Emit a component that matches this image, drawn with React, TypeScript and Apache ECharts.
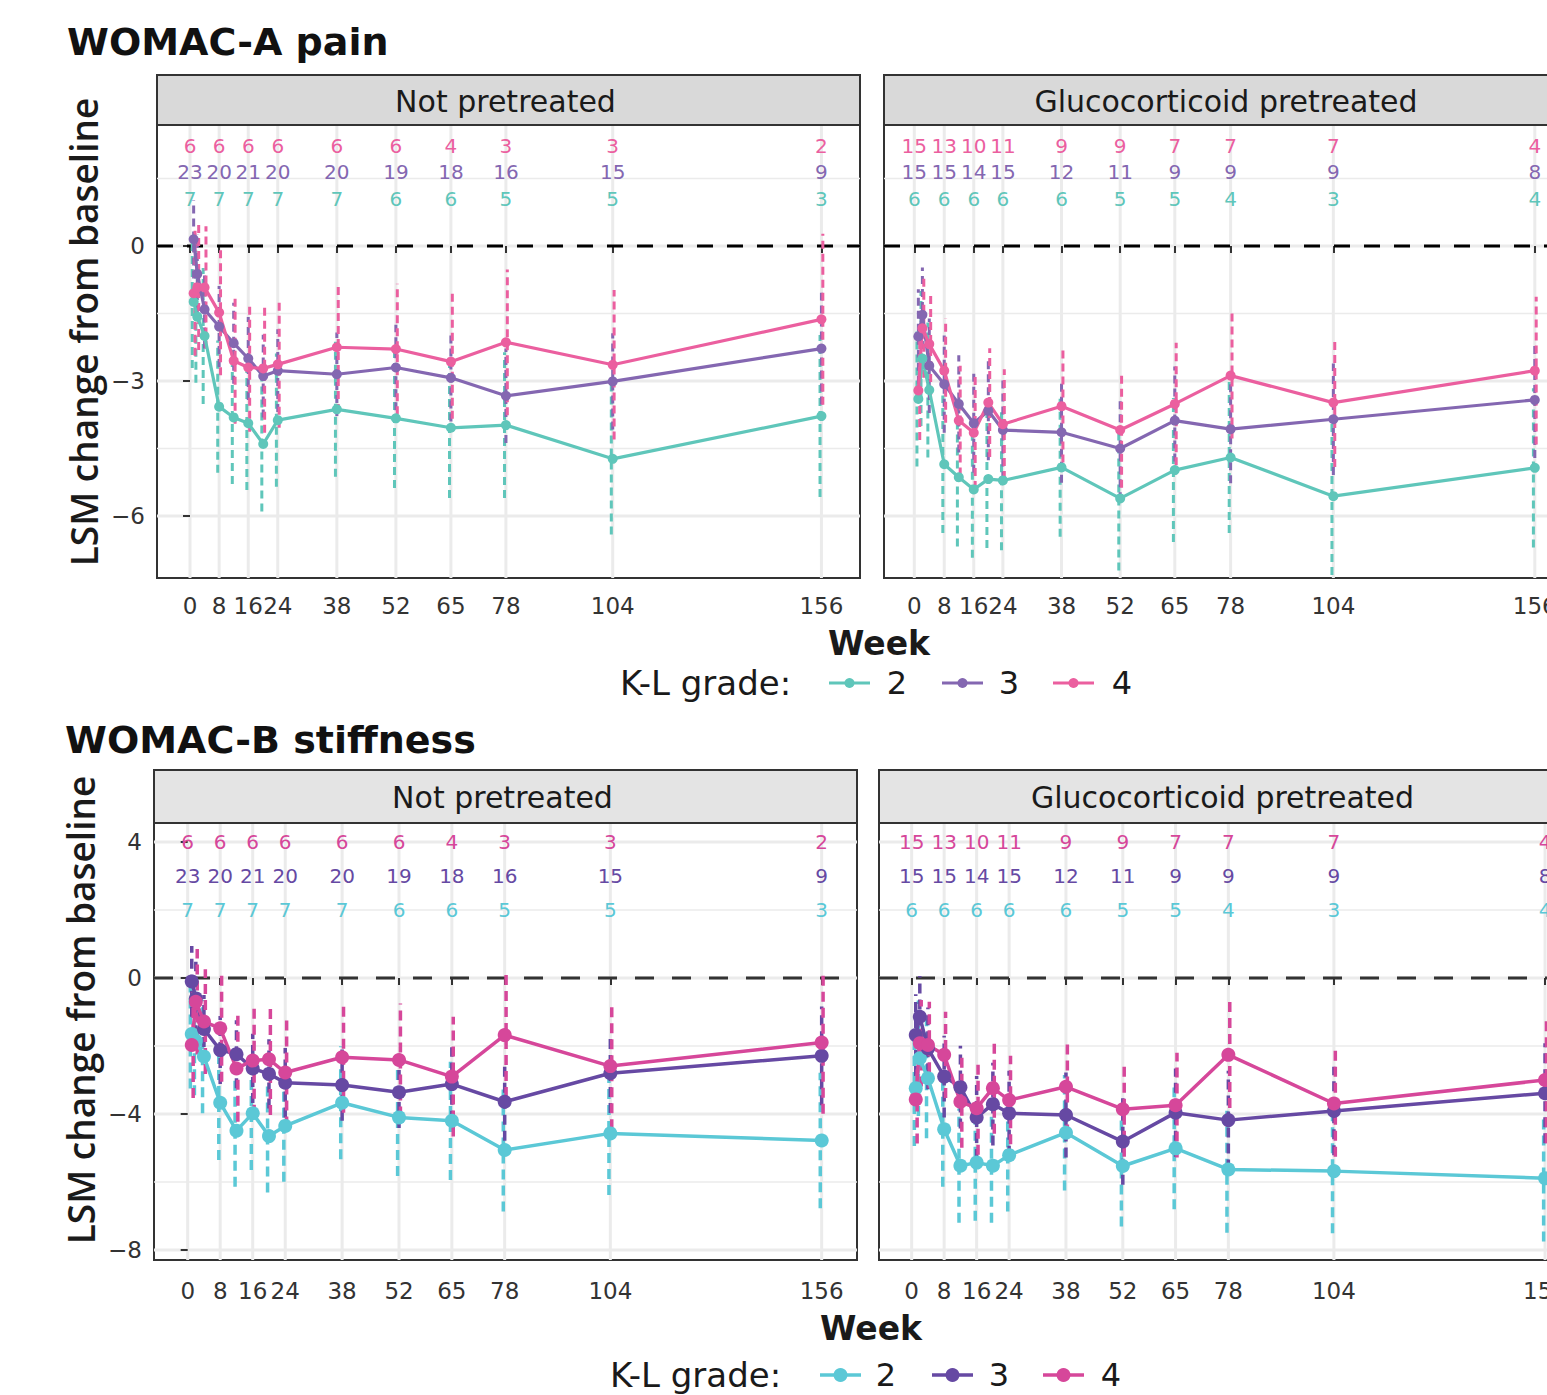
import React, { useEffect, useRef } from 'react';
import * as echarts from 'echarts';

// ---------------- DATA ----------------
const weeks = [1, 2, 4, 8, 12, 16, 20, 24, 38, 52, 65, 78, 104, 156];
const tickWeeks = [0, 8, 16, 24, 38, 52, 65, 78, 104, 156];

// plotted (actual) visit times in the WOMAC-A panels
const painNPTime = [0.9, 1.8, 3.6, 7.2, 10.8, 14.4, 18.1, 21.7, 36.3, 50.9, 64.5, 78.1, 104.5, 156.1];
const painNPTickTime = [0, 7.2, 14.4, 21.7, 36.3, 50.9, 64.5, 78.1, 104.5, 156.1];
const painGCTime = [1.0, 2.0, 3.7, 7.4, 11.0, 14.7, 18.3, 21.9, 36.4, 50.9, 64.4, 78.2, 103.6, 153.4];
const painGCTickTime = [0, 7.4, 14.7, 21.9, 36.4, 50.9, 64.4, 78.2, 103.6, 153.4];

// patient counts at labelled weeks
const nNP2 = [7, 7, 7, 7, 7, 6, 6, 5, 5, 3];
const nNP3 = [23, 20, 21, 20, 20, 19, 18, 16, 15, 9];
const nNP4 = [6, 6, 6, 6, 6, 6, 4, 3, 3, 2];
const nGC2 = [6, 6, 6, 6, 6, 5, 5, 4, 3, 4];
const nGC3 = [15, 15, 14, 15, 12, 11, 9, 9, 9, 8];
const nGC4 = [15, 13, 10, 11, 9, 9, 7, 7, 7, 4];

// WOMAC-A pain, not pretreated (LSM, CI half width)
const painNP2 = [-1.24, -1.57, -2.0, -3.57, -3.81, -3.94, -4.4, -3.87, -3.63, -3.83, -4.04, -3.98, -4.73, -3.78];
const painNP2ci = [1.47, 1.47, 1.51, 1.47, 1.48, 1.48, 1.5, 1.48, 1.5, 1.55, 1.56, 1.62, 1.68, 1.8];
const painNP3 = [0.15, -0.62, -1.41, -1.79, -2.16, -2.5, -2.89, -2.77, -2.85, -2.7, -2.93, -3.33, -3.01, -2.28];
const painNP3ci = [0.87, 0.87, 0.87, 0.9, 0.9, 0.92, 0.92, 0.92, 0.93, 0.95, 0.97, 1.05, 1.07, 1.24];
const painNP4 = [-1.05, -0.92, -0.92, -1.48, -2.55, -2.7, -2.72, -2.63, -2.25, -2.29, -2.57, -2.14, -2.64, -1.63];
const painNP4ci = [1.39, 1.39, 1.36, 1.39, 1.4, 1.43, 1.43, 1.41, 1.44, 1.45, 1.56, 1.62, 1.66, 1.9];

// WOMAC-A pain, glucocorticoid pretreated
const painGC2 = [-3.4, -2.5, -3.2, -4.85, -5.14, -5.41, -5.18, -5.21, -4.92, -5.61, -4.98, -4.7, -5.56, -4.93];
const painGC2ci = [1.5, 1.5, 1.5, 1.53, 1.54, 1.52, 1.53, 1.55, 1.54, 1.6, 1.6, 1.68, 1.75, 1.77];
const painGC3 = [-2.01, -1.53, -2.66, -3.07, -3.51, -3.94, -3.66, -4.09, -4.14, -4.5, -3.88, -4.07, -3.85, -3.42];
const painGC3ci = [1.05, 1.05, 1.05, 1.08, 1.08, 1.1, 1.1, 1.1, 1.12, 1.15, 1.2, 1.2, 1.24, 1.29];
const painGC4 = [-3.21, -1.83, -2.18, -2.77, -3.88, -4.15, -3.48, -3.96, -3.56, -4.09, -3.51, -2.88, -3.48, -2.77];
const painGC4ci = [1.1, 1.1, 1.13, 1.16, 1.22, 1.25, 1.21, 1.22, 1.25, 1.28, 1.36, 1.4, 1.43, 1.64];

// WOMAC-B stiffness, not pretreated
const stiffNP2 = [-1.65, -1.85, -2.31, -3.67, -4.49, -3.98, -4.65, -4.35, -3.67, -4.1, -4.2, -5.06, -4.57, -4.78];
const stiffNP2ci = [1.6, 1.6, 1.67, 1.68, 1.65, 1.67, 1.66, 1.64, 1.66, 1.72, 1.74, 1.81, 1.81, 1.99];
const stiffNP3 = [-0.1, -0.6, -1.5, -2.12, -2.24, -2.66, -2.82, -3.08, -3.15, -3.36, -3.12, -3.64, -2.8, -2.29];
const stiffNP3ci = [1.04, 1.08, 1.0, 1.0, 1.0, 1.02, 1.02, 1.02, 1.05, 1.05, 1.08, 1.15, 1.17, 1.45];
const stiffNP4 = [-1.97, -0.7, -1.28, -1.48, -2.66, -2.43, -2.39, -2.78, -2.33, -2.41, -2.9, -1.68, -2.59, -1.9];
const stiffNP4ci = [1.56, 1.55, 1.54, 1.57, 1.57, 1.59, 1.64, 1.59, 1.63, 1.66, 1.76, 1.82, 1.86, 2.09];

// WOMAC-B stiffness, glucocorticoid pretreated
const stiffGC2 = [-3.24, -2.36, -2.95, -4.45, -5.52, -5.43, -5.52, -5.21, -4.55, -5.53, -5.01, -5.63, -5.68, -5.89];
const stiffGC2ci = [1.7, 1.7, 1.76, 1.69, 1.68, 1.71, 1.68, 1.66, 1.7, 1.78, 1.79, 1.86, 1.83, 1.86];
const stiffGC3 = [-1.68, -1.14, -2.07, -2.9, -3.21, -4.1, -3.71, -3.98, -4.03, -4.81, -3.96, -4.18, -3.91, -3.39];
const stiffGC3ci = [1.2, 1.2, 1.2, 1.2, 1.22, 1.22, 1.22, 1.25, 1.25, 1.27, 1.3, 1.45, 1.3, 1.47];
const stiffGC4 = [-3.57, -1.92, -1.97, -2.26, -3.64, -3.83, -3.24, -3.59, -3.2, -3.86, -3.74, -2.26, -3.69, -3.0];
const stiffGC4ci = [1.3, 1.27, 1.27, 1.27, 1.35, 1.37, 1.34, 1.3, 1.4, 1.4, 1.54, 1.56, 1.57, 1.86];

const klGrades = ['2', '3', '4'];
const painYTicks = [-6, -3, 0];
const painYMinor = [-4.5, -1.5, 1.5];
const stiffYTicks = [-8, -4, 0, 4];
const stiffYMinor = [-6, -2, 2];
const painCountRows = [1.04, 1.64, 2.22];
const stiffCountRows = [2, 3, 4];

// ---------------- STYLE ----------------
const FONT = '"DejaVu Sans", "Noto Sans", sans-serif';
const FONT2 = '"Open Sans", "Noto Sans", sans-serif';
const TOPC = ['#5FC6BA', '#8467B1', '#EB5F9F'];
const BOTC = ['#5BC8D6', '#6649A3', '#D6479A'];

const topStyle = {
  colors: TOPC, pointSize: 10, lineWidth: 3.2, barWidth: 3, barDash: [8, 5],
  zeroDash: [16, 14], zeroColor: '#000', stripFill: '#D9D9D9', labelMargin: 16,
};
const botStyle = {
  colors: BOTC, pointSize: 14, lineWidth: 3.5, barWidth: 3.5, barDash: [10, 6],
  zeroDash: [19, 18], zeroColor: '#333', stripFill: '#E4E4E4', labelMargin: 19,
};

type Panel = {
  left: number; top: number; width: number; height: number;
  xMin: number; pxPerX: number; yMin: number; yMax: number;
  time: number[]; tickTime: number[];
  yTicks: number[]; yMinor: number[]; rows: number[];
  means: number[][]; cis: number[][]; counts: number[][];
  style: typeof topStyle; strip: string; stripTop: number; showY: boolean;
};

const panels: Panel[] = [
  {
    left: 157, top: 125, width: 703, height: 453, xMin: -8.16, pxPerX: 4.045,
    yMin: -7.378, yMax: 2.689, time: painNPTime, tickTime: painNPTickTime,
    yTicks: painYTicks, yMinor: painYMinor, rows: painCountRows,
    means: [painNP2, painNP3, painNP4], cis: [painNP2ci, painNP3ci, painNP4ci],
    counts: [nNP2, nNP3, nNP4], style: topStyle, strip: 'Not pretreated', stripTop: 75, showY: true,
  },
  {
    left: 884, top: 125, width: 690, height: 453, xMin: -7.49, pxPerX: 4.045,
    yMin: -7.378, yMax: 2.689, time: painGCTime, tickTime: painGCTickTime,
    yTicks: painYTicks, yMinor: painYMinor, rows: painCountRows,
    means: [painGC2, painGC3, painGC4], cis: [painGC2ci, painGC3ci, painGC4ci],
    counts: [nGC2, nGC3, nGC4], style: topStyle, strip: 'Glucocorticoid pretreated', stripTop: 75, showY: false,
  },
  {
    left: 154, top: 823, width: 703, height: 437, xMin: -8.29, pxPerX: 4.064,
    yMin: -8.294, yMax: 4.559, time: weeks, tickTime: tickWeeks,
    yTicks: stiffYTicks, yMinor: stiffYMinor, rows: stiffCountRows,
    means: [stiffNP2, stiffNP3, stiffNP4], cis: [stiffNP2ci, stiffNP3ci, stiffNP4ci],
    counts: [nNP2, nNP3, nNP4], style: botStyle, strip: 'Not pretreated', stripTop: 770, showY: true,
  },
  {
    left: 879, top: 823, width: 693, height: 437, xMin: -8.05, pxPerX: 4.06,
    yMin: -8.294, yMax: 4.559, time: weeks, tickTime: tickWeeks,
    yTicks: stiffYTicks, yMinor: stiffYMinor, rows: stiffCountRows,
    means: [stiffGC2, stiffGC3, stiffGC4], cis: [stiffGC2ci, stiffGC3ci, stiffGC4ci],
    counts: [nGC2, nGC3, nGC4], style: botStyle, strip: 'Glucocorticoid pretreated', stripTop: 770, showY: false,
  },
];

const minus = (v: number) => (v < 0 ? '\u2212' + Math.abs(v) : String(v));

function txt(text: string, x: number, y: number, size: number, opts: any = {}) {
  return {
    type: 'text', x, y, rotation: opts.rotation || 0, silent: true, z: 100,
    style: {
      text, font: `${opts.weight || 'normal'} ${size}px ${opts.family || FONT}`, fill: opts.fill || '#1a1a1a',
      align: opts.align || 'center', verticalAlign: 'middle',
      textAlign: opts.align || 'center', textVerticalAlign: 'middle',
    },
  };
}

function legend(x0: number, y: number, labelX: number[], lineX: number[], colors: string[], r: number, lw: number) {
  const els: any[] = [txt('K-L grade:', x0, y, 34, { align: 'left' })];
  klGrades.forEach((g, i) => {
    els.push({ type: 'line', silent: true, z: 100, shape: { x1: lineX[i], y1: y, x2: lineX[i] + 41, y2: y }, style: { stroke: colors[i], lineWidth: lw } });
    els.push({ type: 'circle', silent: true, z: 101, shape: { cx: lineX[i] + 20.5, cy: y, r }, style: { fill: colors[i] } });
    els.push(txt(g, labelX[i], y, 32));
  });
  return els;
}

function buildOption() {
  const grid: any[] = [];
  const xAxis: any[] = [];
  const yAxis: any[] = [];
  const series: any[] = [];
  const graphic: any[] = [];

  panels.forEach((p, i) => {
    const st = p.style;
    const xMax = p.xMin + p.width / p.pxPerX;
    grid.push({
      left: p.left, top: p.top, width: p.width, height: p.height, show: true,
      borderColor: '#333', borderWidth: 2, backgroundColor: 'transparent',
      outerBoundsMode: 'none', containLabel: false,
    });
    xAxis.push({
      type: 'value', gridIndex: i, min: p.xMin, max: xMax,
      axisLine: { show: false }, splitLine: { show: false },
      axisTick: { show: true, length: 7, lineStyle: { color: '#333', width: 2 }, customValues: p.tickTime },
      axisLabel: {
        show: true, customValues: p.tickTime, fontSize: 23, color: '#333', fontFamily: FONT, margin: st.labelMargin,
        hideOverlap: false,
        formatter: (v: number) => {
          const j = p.tickTime.findIndex((t) => Math.abs(t - v) < 1e-6);
          return j >= 0 ? String(tickWeeks[j]) : '';
        },
      },
    });
    yAxis.push({
      type: 'value', gridIndex: i, min: p.yMin, max: p.yMax,
      axisLine: { show: false }, splitLine: { show: false },
      axisTick: { show: p.showY, length: 7, lineStyle: { color: '#333', width: 2 }, customValues: p.yTicks },
      axisLabel: { show: p.showY, customValues: p.yTicks, fontSize: 23, color: '#333', fontFamily: FONT, margin: 12, formatter: minus },
    });

    // horizontal gridlines
    series.push({
      type: 'custom', xAxisIndex: i, yAxisIndex: i, z: 0, silent: true,
      data: [...p.yTicks.map((v) => [p.xMin, v, 1]), ...p.yMinor.map((v) => [p.xMin, v, 0])],
      renderItem: (params: any, api: any) => {
        const cs = params.coordSys;
        const y = api.coord([api.value(0), api.value(1)])[1];
        return { type: 'line', shape: { x1: cs.x, y1: y, x2: cs.x + cs.width, y2: y }, style: { stroke: '#EBEBEB', lineWidth: api.value(2) === 1 ? 3 : 1.6 } };
      },
    });
    // vertical gridlines
    series.push({
      type: 'custom', xAxisIndex: i, yAxisIndex: i, z: 0, silent: true,
      data: p.tickTime.map((t) => [t, 0]),
      renderItem: (params: any, api: any) => {
        const cs = params.coordSys;
        const x = api.coord([api.value(0), 0])[0];
        return { type: 'line', shape: { x1: x, y1: cs.y, x2: x, y2: cs.y + cs.height }, style: { stroke: '#EBEBEB', lineWidth: 3 } };
      },
    });
    // zero reference line
    series.push({
      type: 'custom', xAxisIndex: i, yAxisIndex: i, z: 1, silent: true,
      data: [[p.xMin, 0]],
      renderItem: (params: any, api: any) => {
        const cs = params.coordSys;
        const y = api.coord([api.value(0), api.value(1)])[1];
        return { type: 'line', shape: { x1: cs.x, y1: y, x2: cs.x + cs.width, y2: y }, style: { stroke: st.zeroColor, lineWidth: 3, lineDash: st.zeroDash } };
      },
    });

    const dodges = [-1.4, 0, 1.4];
    p.means.forEach((mean, k) => {
      const color = st.colors[k];
      const ci = p.cis[k];
      series.push({
        type: 'custom', xAxisIndex: i, yAxisIndex: i, z: 3, silent: true,
        data: p.time.map((t, j) => [t, mean[j] - ci[j], mean[j] + ci[j]]),
        renderItem: (params: any, api: any) => {
          const lo = api.coord([api.value(0), api.value(1)]);
          const hi = api.coord([api.value(0), api.value(2)]);
          return { type: 'line', shape: { x1: lo[0] + dodges[k], y1: lo[1], x2: hi[0] + dodges[k], y2: hi[1] }, style: { stroke: color, lineWidth: st.barWidth, lineDash: st.barDash } };
        },
      });
    });
    p.means.forEach((mean, k) => {
      const color = st.colors[k];
      series.push({
        type: 'line', name: klGrades[k], xAxisIndex: i, yAxisIndex: i, z: 4, silent: true,
        data: p.time.map((t, j) => [t, mean[j]]),
        symbol: 'circle', symbolSize: st.pointSize, showSymbol: true,
        lineStyle: { color, width: st.lineWidth }, itemStyle: { color },
      });
      series.push({
        type: 'custom', xAxisIndex: i, yAxisIndex: i, z: 5, silent: true,
        data: p.tickTime.map((t, j) => [t, p.rows[k], p.counts[k][j]]),
        renderItem: (params: any, api: any) => {
          const c = api.coord([api.value(0), api.value(1)]);
          return {
            type: 'text', x: c[0], y: c[1],
            style: { text: String(api.value(2)), fill: color, font: `20px ${FONT}`, align: 'center', verticalAlign: 'middle', textAlign: 'center', textVerticalAlign: 'middle' },
          };
        },
      });
    });

    // facet strip
    const stripH = p.top - p.stripTop;
    graphic.push({ type: 'rect', silent: true, z: 50, shape: { x: p.left, y: p.stripTop, width: p.width, height: stripH }, style: { fill: st.stripFill, stroke: '#333', lineWidth: 2 } });
    graphic.push(txt(p.strip, p.left + p.width / 2 - 3, p.stripTop + stripH / 2 + 1, 30));
  });

  graphic.push(txt('WOMAC-A pain', 67, 42, 38, { align: 'left', weight: 'bold', fill: '#111' }));
  graphic.push(txt('WOMAC-B stiffness', 65, 740, 38, { align: 'left', weight: 'bold', fill: '#111' }));
  graphic.push(txt('LSM change from baseline', 83, 332, 37, { rotation: Math.PI / 2, weight: 600, family: FONT2 }));
  graphic.push(txt('LSM change from baseline', 80, 1010, 37, { rotation: Math.PI / 2, weight: 600, family: FONT2 }));
  graphic.push(txt('Week', 879, 643, 33, { weight: 'bold' }));
  graphic.push(txt('Week', 871, 1328, 33, { weight: 'bold' }));
  graphic.push(...legend(620, 683, [897, 1009, 1122], [829, 942, 1053], TOPC, 5, 3));
  graphic.push(...legend(610, 1375, [886, 999, 1111], [820, 932, 1043], BOTC, 7, 3.5));

  return { animation: false, backgroundColor: '#fff', grid, xAxis, yAxis, series, graphic };
}

export default function App() {
  const ref = useRef<HTMLDivElement>(null);
  useEffect(() => {
    document.body.style.margin = '0';
    document.body.style.overflow = 'hidden';
    const chart = echarts.init(ref.current as HTMLDivElement, null, { renderer: 'svg' });
    chart.setOption(buildOption() as any);
    return () => chart.dispose();
  }, []);
  return <div ref={ref} style={{ width: 1547, height: 1395 }} />;
}
